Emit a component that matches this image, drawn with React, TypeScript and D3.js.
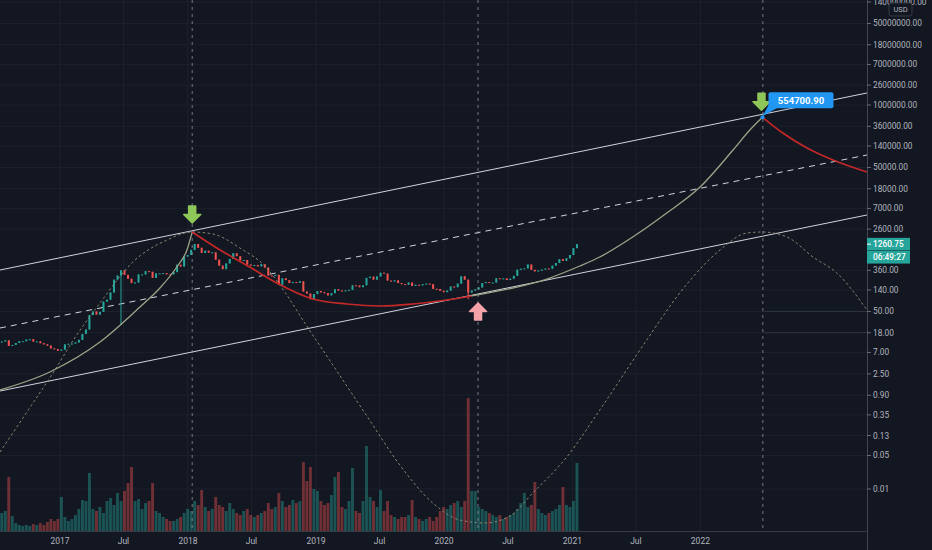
import * as d3 from "d3";
import React, { useRef, useEffect } from "react";

const parse = d3.utcParse("%Y-%m-%d");

const firstDay = "2016-07-14";
const lastDay = "2023-04-21";
const candleDays = 10;

// 10-day closes, ETH/USD
const closes = [
  11.8, 12.5, 9.6, 10.0, 11.0, 12.0, 12.0, 13.0, 13.2, 11.8, 11.9, 10.9, 10.3, 9.7, 8.5, 8.2, 7.6, 8.0,
  10.3, 10.6, 10.7, 11.3, 12.8, 17, 21, 42, 50, 43, 49, 80, 88, 124, 230, 280, 360, 290, 240, 195,
  200, 295, 295, 345, 335, 250, 310, 310, 315, 297, 296, 330, 470, 430, 695, 750,
  960, 1270, 1060, 830, 920, 840, 850, 600, 450, 380, 500, 620, 815, 710, 580, 590, 475, 450, 465,
  435, 480, 410, 280, 275, 290, 180, 245, 225, 195, 205, 198, 212, 130, 118, 90, 115, 133,
  125, 120, 108, 120, 145, 136, 133, 137, 141, 175, 173, 160, 175, 250, 265, 230, 268, 320, 307,
  220, 210, 222, 195, 185, 180, 200, 170, 180, 175, 185, 190, 185, 148, 147, 135, 126,
  136, 165, 160, 190, 270, 230, 124, 136, 144, 158, 195, 205, 200, 200, 245, 238, 244, 226, 240,
  276, 370, 388, 395, 475, 368, 342, 356, 373, 392, 386, 450, 510, 615, 565, 640, 750, 1040, 1260.75,
];

const volumes = [
  18, 20, 54, 15, 8, 6, 5, 6, 5, 7,
  6, 8, 6, 9, 12, 10, 12, 34, 14, 10,
  12, 16, 22, 31, 30, 58, 22, 20, 24, 18,
  30, 33, 26, 38, 30, 40, 48, 64, 30, 32,
  22, 28, 30, 48, 20, 18, 14, 12, 10, 10,
  12, 14, 18, 22, 20, 30, 26, 41, 24, 20,
  22, 34, 26, 24, 20, 28, 22, 18, 16, 20,
  22, 16, 14, 16, 18, 20, 28, 22, 24, 38,
  30, 24, 26, 31, 28, 30, 69, 50, 64, 42,
  40, 30, 26, 28, 36, 54, 59, 24, 22, 30,
  63, 20, 18, 30, 85, 34, 30, 24, 41, 20,
  30, 16, 14, 12, 14, 14, 16, 31, 14, 12,
  10, 12, 14, 10, 14, 20, 24, 22, 26, 28,
  30, 24, 30, 133, 40, 40, 24, 22, 20, 18,
  16, 14, 16, 12, 14, 16, 18, 22, 28, 38,
  24, 26, 49, 22, 18, 16, 18, 20, 22, 26,
  44, 26, 24, 30, 68,
];

const wickLows: [string, number][] = [
  ["2017-06-22", 26],
  ["2020-03-12", 90],
];

const priceTicks = [
  140000000, 50000000, 18000000, 7000000, 2600000, 1000000, 360000, 140000, 50000, 18000, 7000,
  2600, 360, 140, 50, 18, 7, 2.5, 0.9, 0.35, 0.13, 0.05, 0.01,
];
const timeTicks = [
  "2017-01-01", "2017-07-01", "2018-01-01", "2018-07-01", "2019-01-01", "2019-07-01",
  "2020-01-01", "2020-07-01", "2021-01-01", "2021-07-01", "2022-01-01",
];
const timeLabels = ["2017", "Jul", "2018", "Jul", "2019", "Jul", "2020", "Jul", "2021", "Jul", "2022"];

const cycleMarks = ["2018-01-13", "2020-04-07", "2022-06-28"];

const channelDays = ["2016-07-14", "2023-04-21"];
const channelTop = [365, 1780000];
const channelMid = [22.6, 90800];
const channelBottom = [1.1, 5110];

const riseADays = ["2016-07-14", "2016-12-03", "2017-04-25", "2017-08-17", "2017-10-13", "2017-11-30", "2017-12-29", "2018-01-13"];
const riseAValues = [1.155, 2.74, 11.5, 61.9, 154, 422, 953, 2260];

const fallADays = ["2018-01-13", "2018-03-24", "2018-06-26", "2018-09-11", "2018-12-23", "2019-03-30", "2019-07-02", "2019-10-04", "2020-01-09", "2020-03-20"];
const fallAValues = [2260, 1050, 422, 196, 90.9, 71.4, 64.9, 71.4, 86.6, 105];

const riseBDays = ["2020-03-20", "2020-07-15", "2020-10-20", "2021-01-22", "2021-03-20", "2021-06-22", "2021-09-27", "2021-12-31", "2022-04-04", "2022-05-22", "2022-06-27"];
const riseBValues = [105, 154, 237, 442, 681, 1778, 5623, 19580, 115500, 301500, 554700.9];

const fallBDays = ["2022-06-27", "2022-08-24", "2022-11-01", "2023-01-14", "2023-04-21"];
const fallBValues = [554700.9, 261000, 127000, 71500, 40200];

const cycleDays = [
  "2016-07-14", "2016-10-16", "2016-12-12", "2017-02-12", "2017-04-25", "2017-07-28", "2017-11-02",
  "2018-01-13", "2018-03-13", "2018-05-29", "2018-08-08", "2018-10-04", "2018-11-30", "2019-02-18",
  "2019-05-26", "2019-08-28", "2019-11-30", "2020-02-15", "2020-04-26", "2020-07-07", "2020-09-10",
  "2020-12-16", "2021-03-20", "2021-08-01", "2021-11-03", "2022-02-26", "2022-05-13", "2022-06-27",
  "2022-09-05", "2022-11-18", "2023-01-25", "2023-04-21",
];
const cycleValues = [
  0.059, 0.62, 2.61, 14.0, 75, 536, 1540,
  2260, 2053, 1050, 442, 127, 28.7, 3.83,
  0.332, 0.0316, 0.0051, 0.00226, 0.00196, 0.00274, 0.00826,
  0.0464, 0.443, 12.7, 121, 953, 2150, 2260,
  1780, 681, 316, 53.6,
];

const targetLabel = "554700.90";
const lastPrice = "1260.75";
const countdown = "06:49:27";

const W = 932;
const H = 550;
const plotW = 867;
const plotH = 531;
const font = "Roboto, 'Liberation Sans', sans-serif";

function App() {
  const ref = useRef<SVGSVGElement>(null);

  useEffect(() => {
    const svg = d3.select(ref.current);
    svg.selectAll("*").remove();

    const x = d3.scaleUtc().domain([parse(firstDay)!, parse(lastDay)!]).range([0, plotW]);
    const y = d3.scaleLog().domain([1, 1e6]).range([393, 105]);
    const vol = d3.scaleLinear().domain([0, d3.max(volumes)!]).range([plotH, 398]);

    svg.append("rect").attr("width", W).attr("height", H).attr("fill", "#131722");

    svg.append("defs").append("clipPath").attr("id", "pane")
      .append("rect").attr("width", plotW).attr("height", plotH);

    const pane = svg.append("g").attr("clip-path", "url(#pane)");

    // grid
    pane.selectAll(".vg").data(timeTicks).enter().append("line")
      .attr("x1", (d) => x(parse(d)!)).attr("x2", (d) => x(parse(d)!))
      .attr("y1", 0).attr("y2", plotH)
      .attr("stroke", "#1d212c").attr("stroke-width", 1);
    pane.selectAll(".hg").data(priceTicks).enter().append("line")
      .attr("x1", 0).attr("x2", plotW)
      .attr("y1", (d) => y(d)).attr("y2", (d) => y(d))
      .attr("stroke", "#1d212c").attr("stroke-width", 1);

    const t0 = parse(firstDay)!;
    const candles = closes.map((c, i) => {
      const open = i === 0 ? c * 0.97 : closes[i - 1];
      return {
        start: d3.utcDay.offset(t0, i * candleDays),
        end: d3.utcDay.offset(t0, (i + 1) * candleDays),
        open,
        close: c,
        high: Math.max(open, c),
        low: Math.min(open, c),
        volume: volumes[i],
      };
    });
    wickLows.forEach(([day, low]) => {
      const i = Math.floor(d3.utcDay.count(t0, parse(day)!) / candleDays);
      if (candles[i]) candles[i].low = Math.min(candles[i].low, low);
    });

    // volume
    pane.selectAll(".vol").data(candles).enter().append("rect")
      .attr("x", (d) => x(d.start) + 0.3)
      .attr("width", (d) => x(d.end) - x(d.start) - 0.6)
      .attr("y", (d) => vol(d.volume))
      .attr("height", (d) => plotH - vol(d.volume))
      .attr("fill", (d) => (d.close >= d.open ? "#26a69a" : "#ef5350"))
      .attr("opacity", 0.42);

    // channel
    const chX = channelDays.map((d) => x(parse(d)!));
    [
      { v: channelTop, dash: null },
      { v: channelMid, dash: "6 5" },
      { v: channelBottom, dash: null },
    ].forEach((c) => {
      pane.append("line")
        .attr("x1", chX[0]).attr("x2", chX[1])
        .attr("y1", y(c.v[0])).attr("y2", y(c.v[1]))
        .attr("stroke", "#d1d4dc").attr("stroke-width", 1)
        .attr("stroke-dasharray", c.dash);
    });

    // candles
    const cg = pane.append("g");
    candles.forEach((d) => {
      const col = d.close >= d.open ? "#26a69a" : "#ef5350";
      const cx = (x(d.start) + x(d.end)) / 2;
      cg.append("line")
        .attr("x1", cx).attr("x2", cx)
        .attr("y1", y(d.high)).attr("y2", y(d.low))
        .attr("stroke", col).attr("stroke-width", 1);
      const top = y(Math.max(d.open, d.close));
      const bot = y(Math.min(d.open, d.close));
      cg.append("rect")
        .attr("x", x(d.start) + 0.75)
        .attr("width", x(d.end) - x(d.start) - 1.5)
        .attr("y", top)
        .attr("height", Math.max(1, bot - top))
        .attr("fill", col);
    });

    const line = d3.line<[string, number]>()
      .x((d) => x(parse(d[0])!))
      .y((d) => y(d[1]))
      .curve(d3.curveMonotoneX);
    const pts = (days: string[], vals: number[]) => days.map((d, i) => [d, vals[i]] as [string, number]);

    // dotted cycle
    pane.append("path")
      .attr("d", line(pts(cycleDays, cycleValues)))
      .attr("fill", "none").attr("stroke", "#8a8670").attr("stroke-width", 1)
      .attr("stroke-dasharray", "2.5 2.5");

    // vertical cycle marks
    pane.selectAll(".cm").data(cycleMarks).enter().append("line")
      .attr("x1", (d) => x(parse(d)!)).attr("x2", (d) => x(parse(d)!))
      .attr("y1", 0).attr("y2", plotH)
      .attr("stroke", "#8f929b").attr("stroke-width", 1)
      .attr("stroke-dasharray", "3 4").attr("opacity", 0.8);

    // faint levels right of the last mark
    [50, 18].forEach((v) => {
      pane.append("line")
        .attr("x1", x(parse(cycleMarks[2])!)).attr("x2", plotW)
        .attr("y1", y(v)).attr("y2", y(v))
        .attr("stroke", "#2f3340").attr("stroke-width", 1);
    });

    [
      { days: riseADays, vals: riseAValues, col: "#9ea387", w: 1.3 },
      { days: fallADays, vals: fallAValues, col: "#c62828", w: 1.6 },
      { days: riseBDays, vals: riseBValues, col: "#9ea387", w: 1.3 },
      { days: fallBDays, vals: fallBValues, col: "#c62828", w: 1.6 },
    ].forEach((c) => {
      pane.append("path")
        .attr("d", line(pts(c.days, c.vals)))
        .attr("fill", "none").attr("stroke", c.col).attr("stroke-width", c.w);
    });

    // arrows
    const arrow = "M0,0 L-8.5,-8.5 L-3.5,-8.5 L-3.5,-17 L3.5,-17 L3.5,-8.5 L8.5,-8.5 Z";
    const peakX = x(parse(riseADays[riseADays.length - 1])!);
    const peakY = y(riseAValues[riseAValues.length - 1]);
    svg.append("path").attr("d", arrow)
      .attr("transform", `translate(${peakX},${peakY - 9})`)
      .attr("fill", "#8fc65a").attr("stroke", "#8fc65a").attr("stroke-width", 1.5).attr("stroke-linejoin", "round");
    const lowX = x(parse(cycleMarks[1])!);
    const lowY = y(riseBValues[0]);
    svg.append("path").attr("d", arrow)
      .attr("transform", `translate(${lowX},${lowY + 7}) scale(1,-1)`)
      .attr("fill", "#f4a3a8").attr("stroke", "#f4a3a8").attr("stroke-width", 1.5).attr("stroke-linejoin", "round");
    const tX = x(parse(riseBDays[riseBDays.length - 1])!);
    const tY = y(riseBValues[riseBValues.length - 1]);
    svg.append("path").attr("d", arrow)
      .attr("transform", `translate(${tX - 1},${tY - 7})`)
      .attr("fill", "#8fc65a").attr("stroke", "#8fc65a").attr("stroke-width", 1.5).attr("stroke-linejoin", "round");

    // target label
    svg.append("path")
      .attr("d", `M${tX},${tY - 1} L${tX + 7},${tY - 14} L${tX + 16},${tY - 10} Z`)
      .attr("fill", "#2196f3");
    svg.append("circle").attr("cx", tX).attr("cy", tY).attr("r", 2).attr("fill", "#2196f3");
    svg.append("rect")
      .attr("x", tX + 6).attr("y", tY - 25).attr("width", 65).attr("height", 16).attr("rx", 2)
      .attr("fill", "#2196f3");
    svg.append("text")
      .attr("x", tX + 38.5).attr("y", tY - 17)
      .attr("text-anchor", "middle").attr("dominant-baseline", "central")
      .attr("fill", "#ffffff").attr("font-family", font).attr("font-size", 9.5).attr("font-weight", 700)
      .text(targetLabel);

    // axes frame
    svg.append("line").attr("x1", 0).attr("x2", plotW).attr("y1", plotH + 0.5).attr("y2", plotH + 0.5)
      .attr("stroke", "#363a45");
    svg.append("line").attr("x1", plotW + 0.5).attr("x2", plotW + 0.5).attr("y1", 0).attr("y2", H)
      .attr("stroke", "#434651");

    // price axis
    const ax = svg.append("g");
    priceTicks.forEach((v) => {
      ax.append("line").attr("x1", plotW).attr("x2", plotW + 4).attr("y1", y(v)).attr("y2", y(v))
        .attr("stroke", "#6a6d78");
      ax.append("text")
        .attr("x", plotW + 6).attr("y", y(v))
        .attr("dominant-baseline", "central")
        .attr("fill", "#b2b5be").attr("font-family", font).attr("font-size", 8.3)
        .text(v.toFixed(2));
    });
    ax.append("rect").attr("x", 889).attr("y", 3).attr("width", 23).attr("height", 13).attr("rx", 2)
      .attr("fill", "#131722").attr("stroke", "#363a45");
    ax.append("text").attr("x", 900.5).attr("y", 9.5)
      .attr("text-anchor", "middle").attr("dominant-baseline", "central")
      .attr("fill", "#b2b5be").attr("font-family", font).attr("font-size", 7.5)
      .text("USD");

    // last price badge
    const lpY = y(+lastPrice);
    ax.append("rect").attr("x", plotW).attr("y", lpY - 6.3).attr("width", 43).attr("height", 12.6)
      .attr("fill", "#26a69a");
    ax.append("rect").attr("x", plotW).attr("y", lpY + 6.8).attr("width", 43).attr("height", 12.6)
      .attr("fill", "#26a69a");
    ax.append("line").attr("x1", plotW).attr("x2", plotW + 4).attr("y1", lpY).attr("y2", lpY)
      .attr("stroke", "#ffffff");
    ax.append("text").attr("x", plotW + 6).attr("y", lpY)
      .attr("dominant-baseline", "central")
      .attr("fill", "#ffffff").attr("font-family", font).attr("font-size", 8.3).attr("font-weight", 500)
      .text(lastPrice);
    ax.append("text").attr("x", plotW + 6).attr("y", lpY + 13.1)
      .attr("dominant-baseline", "central")
      .attr("fill", "#ffffff").attr("font-family", font).attr("font-size", 8.3).attr("font-weight", 500)
      .text(countdown);

    // time axis
    timeTicks.forEach((d, i) => {
      svg.append("text")
        .attr("x", x(parse(d)!)).attr("y", 541)
        .attr("text-anchor", "middle").attr("dominant-baseline", "central")
        .attr("fill", "#b2b5be").attr("font-family", font).attr("font-size", 8.5)
        .text(timeLabels[i]);
    });
  }, []);

  return (
    <div style={{ position: "absolute", left: 0, top: 0 }}>
      <svg ref={ref} width={W} height={H} style={{ display: "block" }}></svg>
    </div>
  );
}

export default App;
